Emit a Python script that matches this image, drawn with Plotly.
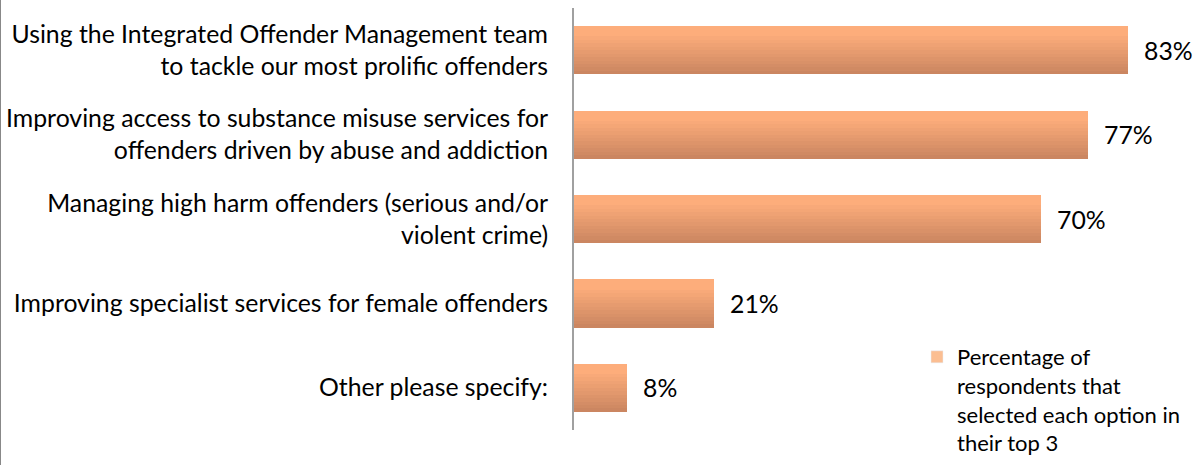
import plotly.graph_objects as go

categories = [
    "Using the Integrated Offender Management team<br>to tackle our most prolific offenders",
    "Improving access to substance misuse services for<br>offenders driven by abuse and addiction",
    "Managing high harm offenders (serious and/or<br>violent crime)",
    "Improving specialist services for female offenders",
    "Other please specify:",
]
values = [83, 77, 70, 21, 8]
labels = ["83%", "77%", "70%", "21%", "8%"]
series_name = "Percentage of<br>respondents that<br>selected each option in<br>their top 3"

W, H = 1199, 465
ML, MR, MT, MB = 574, 0, 8, 35
FONT = "Lato"
FS = 24.8
LFS = 22

top_rgb = (253, 173, 123)
bot_rgb = (203, 134, 97)
N = 14
bar_w = 0.57
slice_w = bar_w / N

fig = go.Figure()
for i in range(N):
    t = i / (N - 1)
    t2 = max(0.0, (t - 0.15) / 0.85)
    c = tuple(round(top_rgb[k] + (bot_rgb[k] - top_rgb[k]) * t2) for k in range(3))
    fig.add_trace(go.Bar(
        x=values, y=categories, orientation="h",
        width=slice_w * 1.05, offset=-bar_w / 2 + i * slice_w,
        marker=dict(color="rgb(%d,%d,%d)" % c, line=dict(width=0)),
        showlegend=False, hoverinfo="skip",
    ))

# legend entry
fig.add_trace(go.Bar(
    x=[None], y=[categories[0]], orientation="h", name=series_name,
    marker=dict(color="rgb(251,190,146)"), showlegend=True,
))

pw = W - ML - MR
ph = H - MT - MB

annotations = [
    dict(x=v, y=c, text=t, xref="x", yref="y", xanchor="left", yanchor="middle",
         xshift=14, showarrow=False, font=dict(family=FONT, size=FS, color="black"))
    for v, c, t in zip(values, categories, labels)
]

fig.update_layout(
    width=W, height=H,
    margin=dict(l=ML, r=MR, t=MT, b=MB, pad=0, autoexpand=False),
    paper_bgcolor="white", plot_bgcolor="white",
    barmode="overlay", bargap=0,
    font=dict(family=FONT, size=FS, color="black"),
    xaxis=dict(range=[0, pw / 6.675], visible=False, showgrid=False, zeroline=False),
    yaxis=dict(
        categoryorder="array", categoryarray=categories, autorange="reversed",
        showline=True, linecolor="#A0A0A0", linewidth=2, ticks="",
        showgrid=False, zeroline=False, ticklabelstandoff=19,
        tickfont=dict(family=FONT, size=FS, color="black"),
    ),
    legend=dict(
        x=(917 - ML) / pw, y=(430 - 336) / ph, xanchor="left", yanchor="top",
        valign="top", bgcolor="rgba(0,0,0,0)",
        font=dict(family=FONT, size=LFS, color="black"),
        itemwidth=30, tracegroupgap=0,
    ),
    annotations=annotations,
    shapes=[dict(type="line", xref="paper", yref="paper",
                 x0=-(ML - 0.5) / pw, x1=-(ML - 0.5) / pw, y0=-MB / ph, y1=(ph + MT) / ph,
                 line=dict(color="#888888", width=1))],
)

fig.write_html("out.html", config={"displayModeBar": False},
               post_script="document.body.style.margin='0';")
